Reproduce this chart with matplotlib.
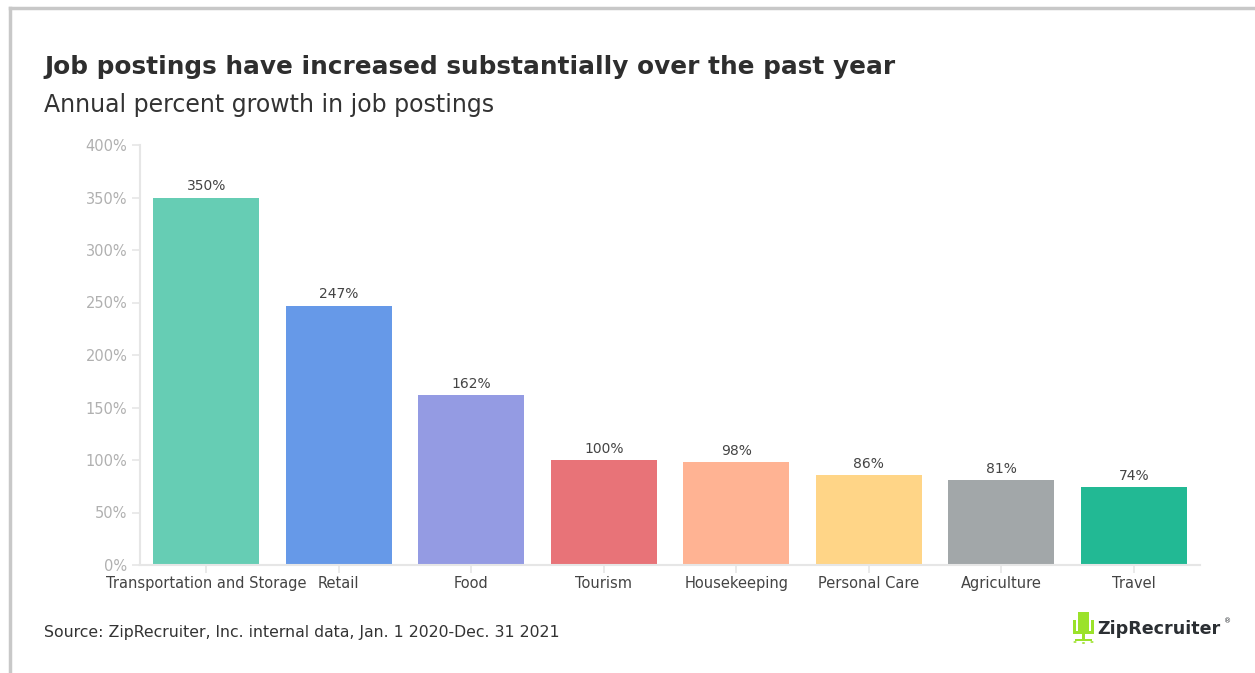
import matplotlib.pyplot as plt
from matplotlib.patches import Rectangle, Circle
from matplotlib.lines import Line2D

categories = ["Transportation and Storage", "Retail", "Food", "Tourism",
              "Housekeeping", "Personal Care", "Agriculture", "Travel"]
growth = [350, 247, 162, 100, 98, 86, 81, 74]
bar_colors = ["#66CDB4", "#6699E8", "#949BE3", "#E87378",
              "#FFB393", "#FFD587", "#A2A7A9", "#22B994"]
y_ticks = [0, 50, 100, 150, 200, 250, 300, 350, 400]

plt.rcParams['font.family'] = ['DejaVu Sans']

W, H = 1255, 673
fig = plt.figure(figsize=(W / 100, H / 100), dpi=100)
ax = fig.add_axes([140 / W, 1 - 565 / H, 1060 / W, 420 / H])

x = range(len(categories))
ax.bar(x, growth, width=0.8, color=bar_colors)
for xi, v in zip(x, growth):
    ax.text(xi, v + 4, f"{v}%", ha='center', va='bottom', fontsize=10, color='#444444')

ax.set_xlim(-0.5, len(categories) - 0.5)
ax.set_ylim(0, 400)
ax.set_yticks(y_ticks)
ax.set_yticklabels([f"{t}%" for t in y_ticks], fontsize=10.5, color='#b0b0b0')
ax.set_xticks(list(x))
ax.set_xticklabels(categories, fontsize=10.5, color='#444444')

for side in ['top', 'right']:
    ax.spines[side].set_visible(False)
for side in ['left', 'bottom']:
    ax.spines[side].set_color('#e6e6e6')
    ax.spines[side].set_linewidth(1.5)
ax.tick_params(axis='y', length=6, width=1.2, color='#e6e6e6', pad=3)
ax.tick_params(axis='x', length=6, width=1.2, color='#e6e6e6', pad=2)

# headings
fig.text(44 / W, 1 - 67 / H, "Job postings have increased substantially over the past year",
         fontsize=17.8, fontweight='bold', color='#2e2e2e', va='center', ha='left')
fig.text(44 / W, 1 - 105 / H, "Annual percent growth in job postings",
         fontsize=17, color='#333333', va='center', ha='left')
fig.text(44 / W, 1 - 632 / H, "Source: ZipRecruiter, Inc. internal data, Jan. 1 2020-Dec. 31 2021",
         fontsize=11.3, color='#333333', va='center', ha='left')

# frame lines along top and left edge
fig.add_artist(Line2D([10 / W, 1], [1 - 8 / H] * 2, color='#c8c8c8', lw=2.5,
                      transform=fig.transFigure))
fig.add_artist(Line2D([10 / W] * 2, [0, 1 - 8 / H], color='#c8c8c8', lw=2.5,
                      transform=fig.transFigure))


# logo: green office chair + wordmark
def rect(x0, y0, x1, y1):
    return Rectangle((x0 / W, 1 - y1 / H), (x1 - x0) / W, (y1 - y0) / H)


green = '#9BE22A'
chair = [
    rect(1078, 612, 1089, 631),   # back
    rect(1073, 620, 1076, 634),   # left arm
    rect(1091, 620, 1094, 634),   # right arm
    rect(1073, 631, 1094, 634),   # seat
    rect(1082, 634, 1085, 640),   # post
    rect(1075, 639, 1092, 641),   # base
    Circle((1075 / W, 1 - 642 / H), 1.6 / W),
    Circle((1092 / W, 1 - 642 / H), 1.6 / W),
    Circle((1083.5 / W, 1 - 643 / H), 1.6 / W),
]
for p in chair:
    p.set_facecolor(green)
    p.set_edgecolor('none')
    p.set_transform(fig.transFigure)
    fig.add_artist(p)
fig.text(1097 / W, 1 - 629 / H, "ZipRecruiter", fontsize=12.6, fontweight='bold',
         color='#2b2f33', va='center', ha='left')
fig.text(1224 / W, 1 - 621 / H, "®", fontsize=5, color='#2b2f33', va='center', ha='left')

fig.savefig("out.png", dpi=100)
